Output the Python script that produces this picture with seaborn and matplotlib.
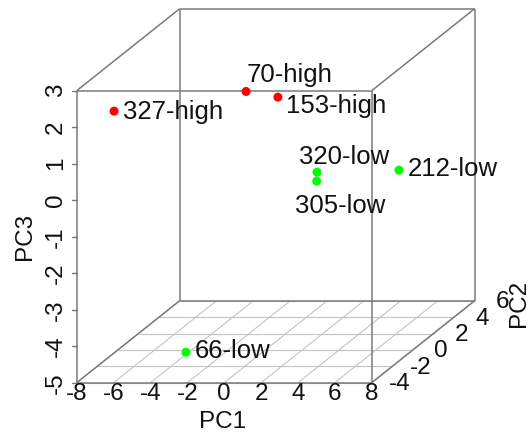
import matplotlib
matplotlib.use("Agg")
import matplotlib.pyplot as plt
import numpy as np
import pandas as pd
import seaborn as sns

# Principal component scores per sample
samples = ["327-high", "70-high", "153-high", "320-low", "305-low", "212-low", "66-low"]
groups = ["high", "high", "high", "low", "low", "low", "low"]
pc1 = [-7.09, -1.05, 0.12, 1.68, 3.34, 5.57, -4.03]
pc2 = [-2.0, 0.0, 1.0, 2.0, -1.0, 3.0, -0.5]
pc3 = [1.99, 2.08, 1.70, -0.58, -0.15, -0.75, -4.95]

pc1_ticks = [-8, -6, -4, -2, 0, 2, 4, 6, 8]
pc2_ticks = [-4, -2, 0, 2, 4, 6]
pc3_ticks = [-5, -4, -3, -2, -1, 0, 1, 2, 3]

group_colors = {"high": "#FF0000", "low": "#00FF00"}

# label placement (pixel offsets from each point to the text baseline start)
label_offsets = {
    "327-high": (8.7, -7.6),
    "70-high": (1.0, 9.6),
    "153-high": (8.4, -16.3),
    "320-low": (-18.4, 8.0),
    "305-low": (-21.3, -32.0),
    "212-low": (8.3, -6.0),
    "66-low": (8.6, -6.3),
}

W, H = 531, 438
sns.set_theme(style="white")
plt.rcParams["font.family"] = ["Liberation Sans", "DejaVu Sans"]

fig = plt.figure(figsize=(W / 100, H / 100), dpi=100)
ax = fig.add_axes([0, 0, 1, 1])
ax.set_xlim(0, W)
ax.set_ylim(H, 0)
ax.axis("off")

# oblique projection of the PC1/PC2/PC3 box onto the page
xmin, xmax = pc1_ticks[0], pc1_ticks[-1]
ymin, ymax = pc2_ticks[0], pc2_ticks[-1]
zmin, zmax = pc3_ticks[0], pc3_ticks[-1]
left, right, bottom, top = 76.7, 371.7, 382.7, 90.7
depth_dx, depth_dy = 103.0, 82.0


def project(x, y, z):
    x = np.asarray(x, float)
    y = np.asarray(y, float)
    z = np.asarray(z, float)
    fx = (x - xmin) / (xmax - xmin)
    fy = (y - ymin) / (ymax - ymin)
    fz = (z - zmin) / (zmax - zmin)
    sx = left + fx * (right - left) + fy * depth_dx
    sy = bottom - fz * (bottom - top) - fy * depth_dy
    return sx, sy


def seg(p, q, **kw):
    a = project(*p)
    b = project(*q)
    ax.plot([a[0], b[0]], [a[1], b[1]], solid_capstyle="butt", **kw)


grid_kw = dict(color="#c4c4c4", lw=0.8, zorder=1)
box_kw = dict(color="#7a7a7a", lw=1.1, zorder=2)

# grid on the PC1/PC2 floor
for t in pc1_ticks:
    seg((t, ymin, zmin), (t, ymax, zmin), **grid_kw)
for t in pc2_ticks:
    seg((xmin, t, zmin), (xmax, t, zmin), **grid_kw)

# box edges
corners_front = [(xmin, ymin, zmin), (xmax, ymin, zmin), (xmax, ymin, zmax), (xmin, ymin, zmax)]
corners_back = [(xmin, ymax, zmin), (xmax, ymax, zmin), (xmax, ymax, zmax), (xmin, ymax, zmax)]
for i in range(4):
    seg(corners_front[i], corners_front[(i + 1) % 4], **box_kw)
    seg(corners_back[i], corners_back[(i + 1) % 4], **box_kw)
    seg(corners_front[i], corners_back[i], **box_kw)

# PC3 tick marks and labels
fs_tick = 17.5
for t in pc3_ticks:
    sx, sy = project(xmin, ymin, t)
    ax.plot([sx - 4.5, sx], [sy, sy], color="#7a7a7a", lw=1.0, zorder=2)
    ax.text(56, sy, str(t), rotation=90, ha="center", va="center",
            fontsize=fs_tick, color="#111111")

# PC1 tick labels
for t in pc1_ticks:
    sx, sy = project(t, ymin, zmin)
    ax.text(sx, sy + 11, str(t), ha="center", va="center",
            fontsize=fs_tick, color="#111111")

# PC2 tick labels along the receding axis
for t in pc2_ticks:
    sx, sy = project(xmax, t, zmin)
    ax.text(sx + 28, sy + 1.5, str(t), ha="center", va="center",
            fontsize=fs_tick, color="#111111")

ax.text(223, 422, "PC1", ha="center", va="center", fontsize=fs_tick, color="#111111")
ax.text(25, 236, "PC3", ha="center", va="center", rotation=90, fontsize=fs_tick, color="#111111")
ax.text(519, 303, "PC2", ha="center", va="center", rotation=90, fontsize=fs_tick, color="#111111")

# sample points
sx, sy = project(pc1, pc2, pc3)
df = pd.DataFrame({"sample": samples, "group": groups, "sx": sx, "sy": sy})
sns.scatterplot(data=df, x="sx", y="sy", hue="group", palette=group_colors,
                s=42, linewidth=0, legend=False, ax=ax, zorder=4)

for name, px, py in zip(df["sample"], df["sx"], df["sy"]):
    ox, oy = label_offsets[name]
    ax.annotate(name, (px, py), xytext=(ox, oy), textcoords="offset pixels",
                ha="left", va="baseline", fontsize=18.5, color="#111111", zorder=5)

ax.set_xlabel("")
ax.set_ylabel("")
fig.savefig("out.png", dpi=100)
